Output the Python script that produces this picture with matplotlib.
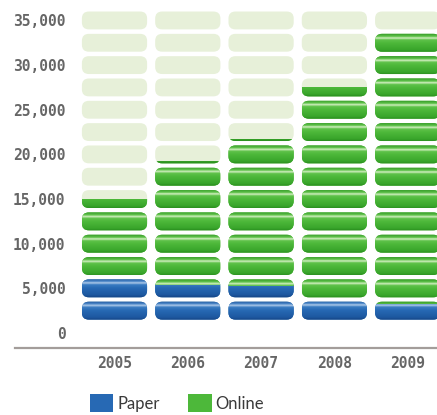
import numpy as np
import matplotlib
matplotlib.use('Agg')
import matplotlib.pyplot as plt
from matplotlib.patches import FancyBboxPatch, PathPatch, Patch
from matplotlib.path import Path
from matplotlib.colors import to_rgb
import matplotlib.transforms as mtransforms

# data (each pill = 2,500)
years = ['2005', '2006', '2007', '2008', '2009']
paper = [6200, 5400, 5300, 3700, 3300]
online = [8800, 13800, 16400, 23800, 30400]
yticks = [0, 5000, 10000, 15000, 20000, 25000, 30000, 35000]
step = 2500

blue_stops = [(0.0, '#17488a'), (0.12, '#1d58a0'), (0.5, '#2769b4'), (0.68, '#3a7cc2'),
              (0.78, '#b3cdea'), (0.86, '#4a86c8'), (1.0, '#22599e')]
green_stops = [(0.0, '#2a8f1f'), (0.12, '#39a52b'), (0.5, '#4db83a'), (0.68, '#5fc24a'),
               (0.78, '#d9f1c8'), (0.86, '#62c44d'), (1.0, '#3a9f2c')]
pale = '#e7f0d9'

bar_w = 0.89
pill_h = 2000
radius = 0.095

fig = plt.figure(figsize=(4.37, 4.15), dpi=100)
ax = fig.add_axes([78 / 437, 67 / 415, 359 / 437, 343 / 415])
ax.set_xlim(-0.498, 4.4)
ax.set_ylim(-1680, 36730)

p0 = ax.transData.transform((0, 0))
px_x = ax.transData.transform((1, 0))[0] - p0[0]
px_y = ax.transData.transform((0, 1))[1] - p0[1]
m_aspect = px_x / px_y

x = np.arange(len(years))
rows = np.arange(step, yticks[-1] + 1, step)

# background pills + one clip path per column
clips = []
for xi in x:
    paths = []
    for r in rows:
        pill = FancyBboxPatch((xi - bar_w / 2, r - pill_h / 2), bar_w, pill_h,
                              boxstyle='round,pad=0,rounding_size=%f' % radius,
                              mutation_aspect=m_aspect, fc=pale, ec='none', zorder=1)
        ax.add_patch(pill)
        paths.append(pill.get_path())
    cp = PathPatch(Path.make_compound_path(*paths), transform=ax.transData,
                   fc='none', ec='none')
    ax.add_patch(cp)
    clips.append(cp)

b1 = ax.bar(x, paper, width=bar_w, color='#2769b4', zorder=2)
b2 = ax.bar(x, online, width=bar_w, bottom=paper, color='#4db83a', zorder=2)


def gloss(stops, y0, y1, n=600):
    ys = np.linspace(y0, y1, n)
    k = np.round(ys / step)
    t = np.clip((ys - (k * step - pill_h / 2)) / pill_h, 0, 1)
    pos = [s[0] for s in stops]
    cols = np.array([to_rgb(s[1]) for s in stops])
    img = np.stack([np.interp(t, pos, cols[:, c]) for c in range(3)], axis=-1)
    return img[:, None, :]


for bars, stops in ((b1, blue_stops), (b2, green_stops)):
    for i, b in enumerate(bars):
        b.set_clip_path(clips[i])
        y0, y1 = b.get_y(), b.get_y() + b.get_height()
        im = ax.imshow(gloss(stops, y0, y1), extent=[b.get_x(), b.get_x() + b.get_width(), y0, y1],
                       origin='lower', aspect='auto', interpolation='bilinear', zorder=3)
        im.set_clip_path(clips[i])

ax.set_xlim(-0.498, 4.4)
ax.set_ylim(-1680, 36730)

for s in ax.spines.values():
    s.set_visible(False)
ax.set_xticks(x)
ax.set_xticklabels(years)
ax.set_yticks(yticks)
ax.set_yticklabels(['{:,}'.format(v) for v in yticks])
ax.tick_params(length=0, labelcolor='#666666')
ax.tick_params(axis='y', pad=9)
ax.tick_params(axis='x', pad=6)
for lab in ax.get_xticklabels() + ax.get_yticklabels():
    lab.set_family('DejaVu Sans Mono')
    lab.set_fontsize(10.5)
    lab.set_fontweight('bold')

trans = mtransforms.blended_transform_factory(ax.transAxes, ax.transData)
ax.plot([-0.176, 1], [-1680, -1680], transform=trans, color='#a39d9a', lw=1.6, clip_on=False)

fig.legend(handles=[Patch(fc='#2769b4'), Patch(fc='#4db83a')], labels=['Paper', 'Online'],
           loc='center left', bbox_to_anchor=(90 / 437, 1 - 403 / 415), ncol=2, frameon=False,
           handlelength=1.4, handleheight=1.2, handletextpad=0.25, columnspacing=1.7,
           borderpad=0, borderaxespad=0, prop={'family': 'Lato', 'size': 12}, labelcolor='#3a3a3a')

fig.savefig('out.png', dpi=100)
